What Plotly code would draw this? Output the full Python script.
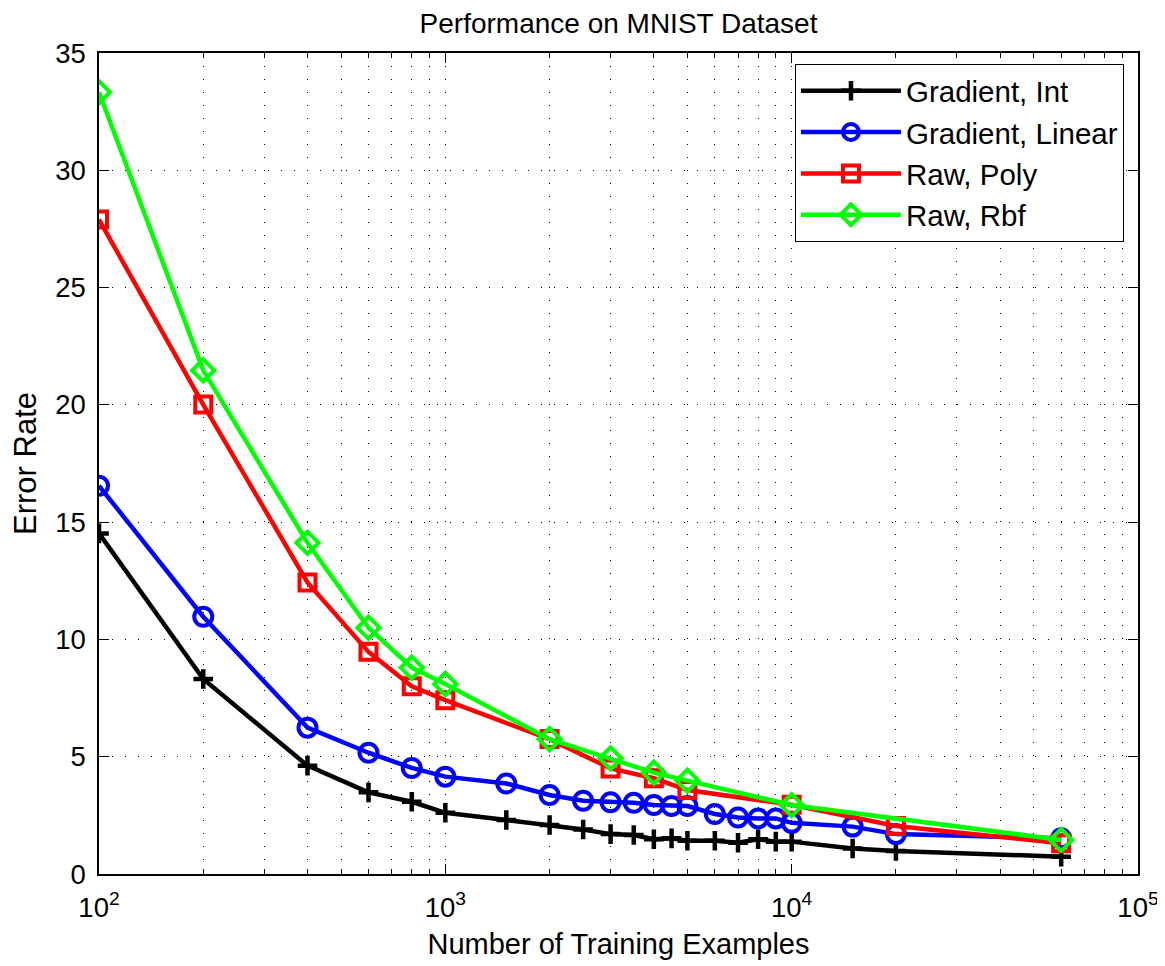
import plotly.graph_objects as go

# ---- data ----
x_gradient = [100, 200, 400, 600, 800, 1000, 1500, 2000, 2500, 3000, 3500, 4000, 4500,
              5000, 6000, 7000, 8000, 9000, 10000, 15000, 20000, 60000]
grad_int = [14.52, 8.31, 4.62, 3.48, 3.08, 2.61, 2.30, 2.09, 1.90, 1.70, 1.66, 1.48, 1.52,
            1.42, 1.42, 1.33, 1.48, 1.38, 1.38, 1.09, 0.98, 0.74]
grad_lin = [16.55, 10.97, 6.24, 5.17, 4.52, 4.15, 3.86, 3.37, 3.12, 3.06, 3.04, 2.94, 2.90,
            2.90, 2.56, 2.41, 2.37, 2.37, 2.18, 2.02, 1.70, 1.52]
x_poly = [100, 200, 400, 600, 800, 1000, 2000, 3000, 4000, 5000, 10000, 20000, 60000]
raw_poly = [27.9, 20.01, 12.43, 9.47, 8.0, 7.41, 5.75, 4.5, 4.08, 3.58, 2.95, 2.05, 1.31]
x_rbf = [100, 200, 400, 600, 800, 1000, 2000, 3000, 4000, 5000, 10000, 60000]
raw_rbf = [33.33, 21.47, 14.12, 10.5, 8.8, 8.1, 5.75, 4.93, 4.32, 3.98, 2.94, 1.45]

series_names = ["Gradient, Int", "Gradient, Linear", "Raw, Poly", "Raw, Rbf"]
x_tickvals = [100, 1000, 10000, 100000]
x_ticktext = ["10<sup>2</sup>", "10<sup>3</sup>", "10<sup>4</sup>", "10<sup>5</sup>"]
x_minorvals = [m * 10 ** e for e in (2, 3, 4) for m in range(2, 10)]
y_tickvals = [0, 5, 10, 15, 20, 25, 30, 35]

FONT = "Liberation Sans, Arial, Helvetica, sans-serif"

fig = go.Figure()
fig.add_trace(go.Scatter(
    x=x_gradient, y=grad_int, name=series_names[0], mode="lines+markers",
    line=dict(color="#000000", width=4.5),
    marker=dict(symbol="cross-thin", size=14, color="#000000",
                line=dict(color="#000000", width=4.5))))
fig.add_trace(go.Scatter(
    x=x_gradient, y=grad_lin, name=series_names[1], mode="lines+markers",
    line=dict(color="#0000ff", width=4.5),
    marker=dict(symbol="circle-open", size=18, color="#0000ff",
                line=dict(color="#0000ff", width=4))))
fig.add_trace(go.Scatter(
    x=x_poly, y=raw_poly, name=series_names[2], mode="lines+markers",
    line=dict(color="#ff0000", width=4.5),
    marker=dict(symbol="square-open", size=16, color="#ff0000",
                line=dict(color="#ff0000", width=4))))
fig.add_trace(go.Scatter(
    x=x_rbf, y=raw_rbf, name=series_names[3], mode="lines+markers",
    line=dict(color="#00ff00", width=4.5),
    marker=dict(symbol="diamond-open", size=17, color="#00ff00",
                line=dict(color="#00ff00", width=4))))

grid_dash = "1px,12px"

fig.update_layout(
    width=1157, height=958,
    margin=dict(l=91, r=27, t=45, b=92, autoexpand=False),
    paper_bgcolor="white", plot_bgcolor="white",
    font=dict(family=FONT, size=27, color="black"),
    title=dict(text="Performance on MNIST Dataset", x=0.5, xref="paper", xanchor="center",
               y=1 - 15 / 958, yanchor="middle", yref="container",
               font=dict(size=28, family=FONT, color="black")),
    showlegend=True,
    legend=dict(x=0.9865, xanchor="right", y=0.9866, yanchor="top",
                bgcolor="white", bordercolor="black", borderwidth=1,
                font=dict(size=29.5, family=FONT, color="black"),
                itemwidth=100, tracegroupgap=0),
    xaxis=dict(
        type="log", range=[2, 5],
        tickmode="array", tickvals=x_tickvals, ticktext=x_ticktext,
        ticks="inside", ticklen=10, tickwidth=1, tickcolor="black",
        showline=True, linecolor="black", linewidth=1.5, mirror="allticks",
        showgrid=True, gridcolor="black", gridwidth=1, griddash=grid_dash,
        zeroline=False,
        tickfont=dict(size=27.5, family=FONT, color="black"),
        ticklabelstandoff=8,
        minor=dict(tickmode="array", tickvals=x_minorvals, ticks="inside", ticklen=5,
                   tickwidth=1, tickcolor="black", showgrid=True, gridcolor="black",
                   gridwidth=1, griddash=grid_dash),
        title=dict(text="Number of Training Examples", standoff=12,
                   font=dict(size=29, family=FONT, color="black")),
    ),
    yaxis=dict(
        range=[0, 35], tickmode="array", tickvals=y_tickvals,
        ticks="inside", ticklen=10, tickwidth=1, tickcolor="black",
        showline=True, linecolor="black", linewidth=1.5, mirror="allticks",
        showgrid=True, gridcolor="black", gridwidth=1, griddash=grid_dash,
        zeroline=False,
        tickfont=dict(size=27.5, family=FONT, color="black"),
        ticklabelstandoff=6,
        title=dict(text="Error Rate", standoff=12,
                   font=dict(size=31, family=FONT, color="black")),
    ),
)

fig.write_html("out.html")
